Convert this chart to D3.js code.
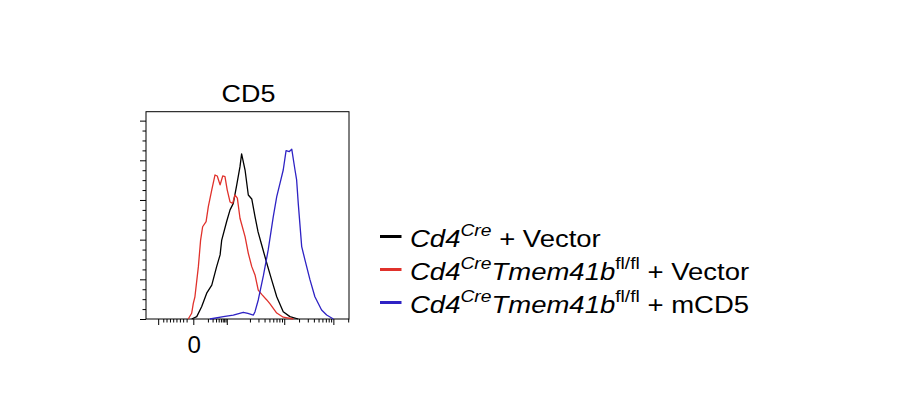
<!DOCTYPE html>
<html>
<head>
<meta charset="utf-8">
<script src="https://cdn.jsdelivr.net/npm/d3@7"></script>
<style>
  body { margin: 0; background: #fff; }
  text { font-family: "Liberation Sans", Arial, sans-serif; fill: #000; }
</style>
</head>
<body>
<svg id="chart" width="901" height="396"></svg>
<script>
// channel units (0-1000 display scale) vs % of max
const blackX = [225, 250, 274, 299, 324, 348, 365, 373, 398, 414, 430, 447, 463, 471, 488, 504, 521, 537, 552, 570, 595, 619, 644, 676, 709, 750];
const blackY = [0, 1.2, 6.2, 13.0, 17.1, 26.4, 32.3, 39.8, 49.4, 55.0, 58.3, 67.6, 76.8, 83.2, 75.1, 62.5, 60.5, 51.6, 43.9, 37.3, 28.1, 19.7, 11.2, 3.7, 1.2, 0];

const redX = [208, 225, 233, 241, 258, 269, 279, 296, 307, 324, 340, 351, 365, 378, 389, 400, 414, 427, 438, 450, 463, 488, 504, 521, 537, 553, 570, 595, 611, 644, 676, 726];
const redY = [0, 2.9, 7.9, 11.2, 26.4, 39.8, 46.5, 49.1, 56.6, 65.1, 72.6, 72.1, 67.6, 72.1, 71.8, 65.1, 59.0, 58.3, 62.5, 60.9, 50.8, 41.5, 33.1, 26.4, 22.2, 14.6, 12.4, 9.6, 7.6, 3.0, 0.9, 0];

const blueX = [315, 381, 430, 479, 502, 529, 537, 553, 578, 602, 627, 644, 660, 676, 690, 706, 718, 734, 742, 750, 767, 783, 808, 832, 865, 890, 923];
const blueY = [0, 1.2, 2.0, 3.4, 2.8, 2.0, 3.7, 9.6, 21.7, 34.8, 51.6, 61.7, 68.4, 75.1, 84.9, 84.4, 85.6, 75.1, 70.1, 58.3, 36.5, 29.8, 19.7, 11.2, 4.5, 2.0, 0];

const xMajorTicks = [60, 233, 398, 681, 923];
const xMinorTicks = [85, 101, 118, 134, 150, 167, 183, 200,
                     305, 328, 345, 358, 369, 378, 385, 392,
                     512, 554, 584, 608, 627, 643, 657, 670,
                     754, 797, 827, 850, 869, 886, 900, 912, 996];
const xTickLabels = [{v: 233, t: "0"}];
const yMajorTicks = [0, 20, 40, 60, 80, 100];
const yMinorTicks = [5, 10, 15, 25, 30, 35, 45, 50, 55, 65, 70, 75, 85, 90, 95];

const title = "CD5";
const seriesColors = ["#000000", "#e0312b", "#2e22c4"];

const svg = d3.select("#chart");
const sx = 1.17; // text is drawn a bit wide in the source

const plotL = 146, plotR = 349, plotT = 111.7, plotB = 319;

const x = d3.scaleLinear().domain([0, 1000]).range([plotL, plotR]);
const y = d3.scaleLinear().domain([0, 104.5]).range([plotB, plotT]);

// axes
function styleAxis(g) {
  g.select(".domain").remove();
  g.selectAll("line").attr("stroke", "#000").attr("stroke-width", 1);
}
svg.append("g").attr("transform", `translate(0,${plotB})`)
  .call(d3.axisBottom(x).tickValues(xMajorTicks).tickSize(6).tickFormat(""))
  .call(styleAxis);
svg.append("g").attr("transform", `translate(0,${plotB})`)
  .call(d3.axisBottom(x).tickValues(xMinorTicks).tickSize(3.5).tickFormat(""))
  .call(styleAxis);
svg.append("g").attr("transform", `translate(${plotL},0)`)
  .call(d3.axisLeft(y).tickValues(yMajorTicks).tickSize(6).tickFormat(""))
  .call(styleAxis);
svg.append("g").attr("transform", `translate(${plotL},0)`)
  .call(d3.axisLeft(y).tickValues(yMinorTicks).tickSize(3.5).tickFormat(""))
  .call(styleAxis);

// frame
svg.append("rect")
  .attr("x", plotL).attr("y", plotT)
  .attr("width", plotR - plotL).attr("height", plotB - plotT)
  .attr("fill", "none").attr("stroke", "#000").attr("stroke-width", 1);

// histograms
const line = d3.line().x(d => x(d[0])).y(d => y(d[1]));
const series = [
  {xs: blackX, ys: blackY, c: seriesColors[0]},
  {xs: redX, ys: redY, c: seriesColors[1]},
  {xs: blueX, ys: blueY, c: seriesColors[2]}
];
series.forEach(s => {
  svg.append("path")
    .datum(s.xs.map((v, i) => [v, s.ys[i]]))
    .attr("d", line)
    .attr("fill", "none")
    .attr("stroke", s.c)
    .attr("stroke-width", 1.3)
    .attr("stroke-linejoin", "round");
});

// labels
svg.append("text")
  .attr("transform", `translate(${(plotL + plotR) / 2 + 1},101.5) scale(${sx},1)`)
  .attr("text-anchor", "middle")
  .style("font-size", "23px")
  .text(title);

xTickLabels.forEach(d => {
  svg.append("text")
    .attr("transform", `translate(${x(d.v) + 1},353) scale(1.05,1)`)
    .attr("text-anchor", "middle")
    .style("font-size", "23px")
    .text(d.t);
});

// legend
const legendRows = [
  [["Cd4", "i"], ["Cre", "si"], [" + Vector", "n"]],
  [["Cd4", "i"], ["Cre", "si"], ["Tmem41b", "i"], ["fl/fl", "s"], [" + Vector", "n"]],
  [["Cd4", "i"], ["Cre", "si"], ["Tmem41b", "i"], ["fl/fl", "s"], [" + mCD5", "n"]]
];
const legendBase = [247, 280, 313];

legendRows.forEach((row, i) => {
  const by = legendBase[i];
  svg.append("line")
    .attr("x1", 380).attr("x2", 401.5)
    .attr("y1", by - 10.5).attr("y2", by - 10.5)
    .attr("stroke", seriesColors[i]).attr("stroke-width", 3);

  const t = svg.append("text")
    .attr("transform", `translate(410,${by}) scale(${sx},1)`)
    .style("font-size", "23.5px");
  let raised = false;
  row.forEach(([str, kind]) => {
    const sup = kind.startsWith("s");
    const ts = t.append("tspan").text(str)
      .style("font-style", kind.includes("i") ? "italic" : "normal")
      .style("font-size", sup ? "16.5px" : "23.5px");
    if (sup && !raised) { ts.attr("dy", -11.5); raised = true; }
    else if (!sup && raised) { ts.attr("dy", 11.5); raised = false; }
  });
});
</script>
</body>
</html>
